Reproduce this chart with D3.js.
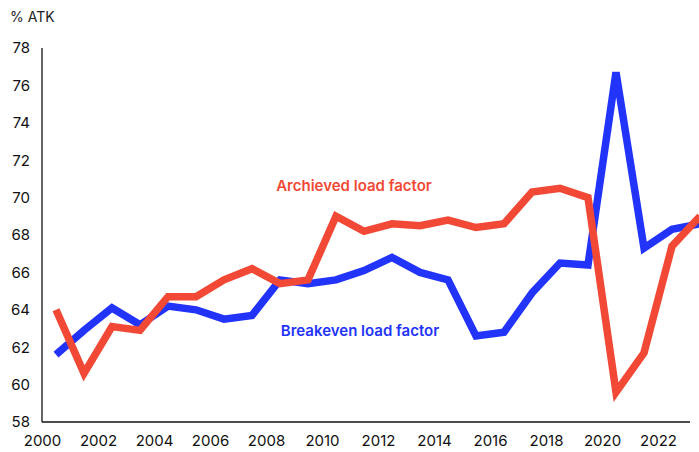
<!DOCTYPE html>
<html>
<head>
<meta charset="utf-8">
<script src="https://cdn.jsdelivr.net/npm/d3@7"></script>
<style>
  body { margin: 0; background: #fff; }
  svg { font-family: Inter, "Noto Sans", sans-serif; }
</style>
</head>
<body>
<div id="chart"></div>
<script>
const years = [2000, 2001, 2002, 2003, 2004, 2005, 2006, 2007, 2008, 2009, 2010, 2011,
  2012, 2013, 2014, 2015, 2016, 2017, 2018, 2019, 2020, 2021, 2022, 2023];
const achieved = [64.0, 60.6, 63.1, 62.9, 64.7, 64.7, 65.6, 66.2, 65.4, 65.6, 69.0, 68.2,
  68.6, 68.5, 68.8, 68.4, 68.6, 70.3, 70.5, 70.0, 59.6, 61.7, 67.4, 69.0];
const breakeven = [61.6, 62.9, 64.1, 63.2, 64.2, 64.0, 63.5, 63.7, 65.6, 65.4, 65.6, 66.1,
  66.8, 66.0, 65.6, 62.6, 62.8, 64.9, 66.5, 66.4, 76.7, 67.3, 68.3, 68.6];
const xTicks = d3.range(2000, 2023, 2);
const yTicks = d3.range(58, 79, 2);

const width = 699, height = 452;
const svg = d3.select("#chart").append("svg")
  .attr("width", width)
  .attr("height", height);

const x = d3.scaleLinear().domain([2000, 2023.5]).range([42, 700]);
const y = d3.scaleLinear().domain([58, 78]).range([422, 48]);

// axes, no tick marks
svg.append("g")
  .attr("transform", "translate(0,422)")
  .call(d3.axisBottom(x).tickValues(xTicks).tickFormat(d3.format("d")).tickSize(0).tickPadding(13))
  .call(g => g.select(".domain").remove())
  .call(g => g.selectAll("text").attr("font-size", 15).attr("fill", "#111").attr("font-family", "Inter"));

svg.append("g")
  .attr("transform", "translate(30,0)")
  .call(d3.axisLeft(y).tickValues(yTicks).tickSize(0).tickPadding(0))
  .call(g => g.select(".domain").remove())
  .call(g => g.selectAll("text").attr("font-size", 15).attr("fill", "#111").attr("font-family", "Inter"));

svg.append("line").attr("x1", 42).attr("x2", 42).attr("y1", 48).attr("y2", 422)
  .attr("stroke", "#111").attr("stroke-width", 1.3);
svg.append("line").attr("x1", 42).attr("x2", 690).attr("y1", 422).attr("y2", 422)
  .attr("stroke", "#111").attr("stroke-width", 1.3);

svg.append("text").attr("x", 10).attr("y", 22)
  .attr("font-size", 14).attr("fill", "#222").text("% ATK");

const line = d3.line().x((d, i) => x(years[i] + 0.5)).y(d => y(d));

svg.append("path").datum(breakeven)
  .attr("d", line).attr("fill", "none")
  .attr("stroke", "#2233fa").attr("stroke-width", 7.5)
  .attr("stroke-linejoin", "miter");

svg.append("path").datum(achieved)
  .attr("d", line).attr("fill", "none")
  .attr("stroke", "#f24836").attr("stroke-width", 7.5)
  .attr("stroke-linejoin", "miter");

svg.append("text").attr("x", 354).attr("y", 191)
  .attr("text-anchor", "middle").attr("font-size", 15).attr("font-weight", 600)
  .attr("fill", "#f24836").text("Archieved load factor");

svg.append("text").attr("x", 360).attr("y", 336)
  .attr("text-anchor", "middle").attr("font-size", 15).attr("font-weight", 600)
  .attr("fill", "#2233fa").text("Breakeven load factor");
</script>
</body>
</html>
